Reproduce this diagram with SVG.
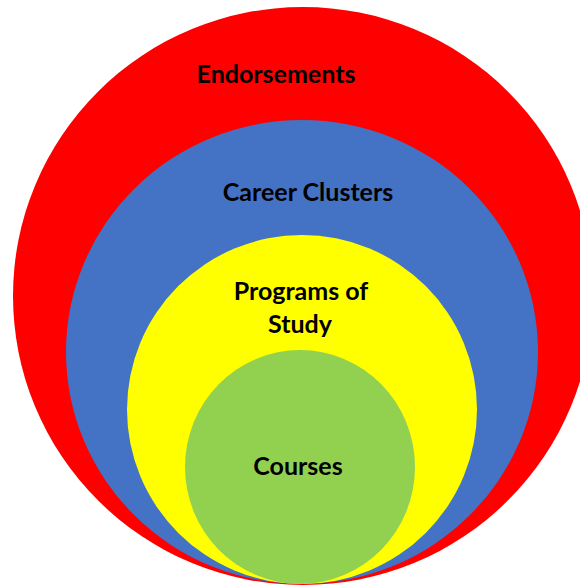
<svg xmlns="http://www.w3.org/2000/svg" width="580" height="587" viewBox="0 0 580 587">
<style>
.lbl{font-family:Lato,"Liberation Sans",Arial,sans-serif;font-weight:bold;font-size:25px;fill:#000;text-anchor:middle}
</style>
<rect width="580" height="587" fill="#fff"/>
<g id="endorsements">
<ellipse cx="303" cy="296" rx="290" ry="289" fill="#ff0000"/>
<text class="lbl" x="276" y="83">Endorsements</text>
</g>
<g id="career-clusters">
<ellipse cx="302" cy="352" rx="236" ry="232" fill="#4472c4"/>
<text class="lbl" x="308" y="201">Career Clusters</text>
</g>
<g id="programs-of-study">
<ellipse cx="302" cy="409.5" rx="175" ry="174.5" fill="#ffff00"/>
<text class="lbl" x="301" y="300">Programs of</text>
<text class="lbl" x="300" y="333">Study</text>
</g>
<g id="courses">
<ellipse cx="300" cy="467" rx="115" ry="117" fill="#92d050"/>
<text class="lbl" x="298" y="475">Courses</text>
</g>
<g id="connectors"/>
</svg>
